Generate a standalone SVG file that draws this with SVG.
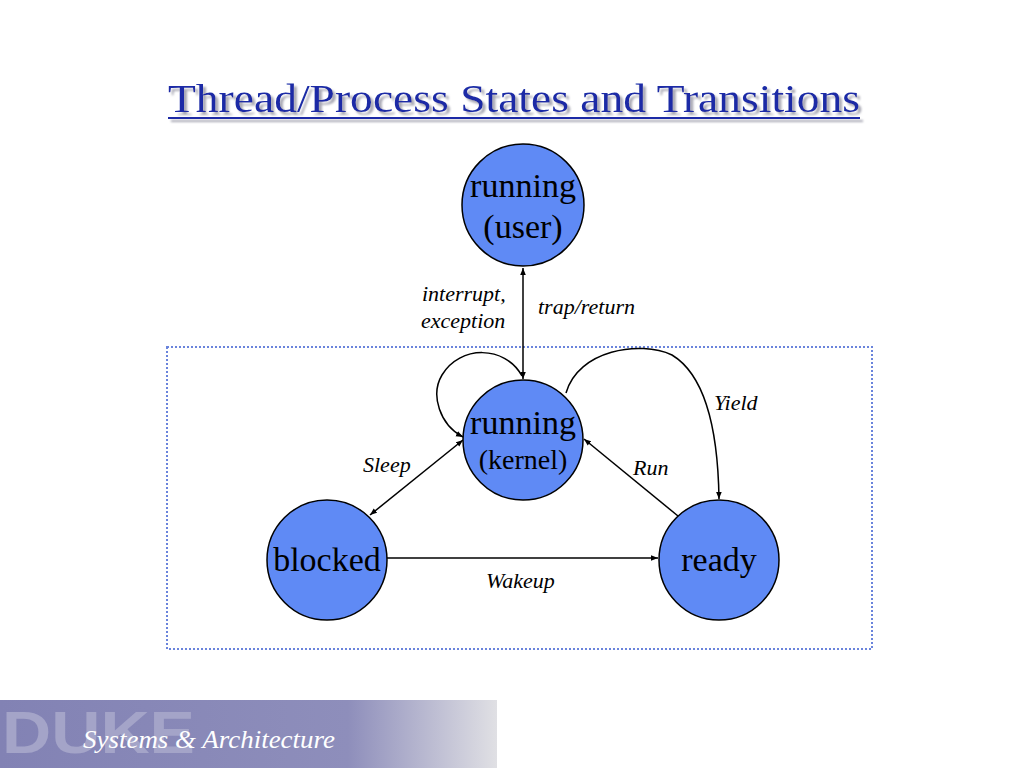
<svg xmlns="http://www.w3.org/2000/svg" width="1024" height="768" viewBox="0 0 1024 768">
<defs>
<style>
.node{fill:#5f8af5;stroke:#000;stroke-width:1.5}
.nl{font-family:"Liberation Serif","Times New Roman",serif;fill:#000;text-anchor:middle}
.el{font-family:"Liberation Serif","Times New Roman",serif;font-style:italic;font-size:22px;fill:#000}
.c{fill:none;stroke:#000;stroke-width:1.5}
</style>
<marker id="ah" viewBox="0 0 10 10" refX="10" refY="5" markerWidth="7" markerHeight="7" orient="auto-start-reverse" markerUnits="userSpaceOnUse">
<path d="M0,1 L10,5 L0,9 Z" fill="#000"/>
</marker>
<linearGradient id="fg" x1="0" y1="0" x2="1" y2="0">
<stop offset="0" stop-color="#8282b4"/>
<stop offset="0.7" stop-color="#8e8ebb"/>
<stop offset="1" stop-color="#e0e0e4"/>
</linearGradient>
<filter id="sh" x="-5%" y="-20%" width="110%" height="150%">
<feDropShadow dx="3" dy="3" stdDeviation="0.8" flood-color="#a8a8b4" flood-opacity="1"/>
</filter>
</defs>
<rect width="1024" height="768" fill="#fff"/>
<g id="title" filter="url(#sh)">
<text x="168" y="112" font-family="'Liberation Serif','Times New Roman',serif" font-size="41" fill="#1a2ca6" textLength="692" lengthAdjust="spacingAndGlyphs">Thread/Process States and Transitions</text>
<rect x="168" y="117" width="692" height="2" fill="#1a2ca6"/>
</g>
<rect id="kernel-box" x="167" y="347" width="705" height="302" fill="none" stroke="#6a84dc" stroke-width="2" stroke-dasharray="2,2"/>
<g id="connectors">
<line class="c" x1="523" y1="268" x2="523" y2="379" marker-start="url(#ah)" marker-end="url(#ah)"/>
<path class="c" d="M522,376 C505,345 460,345 442,375 C430,395 440,425 463,437" marker-end="url(#ah)"/>
<path class="c" d="M566,393 C578,350 640,340 672,355 C705,375 718,430 719,499" marker-end="url(#ah)"/>
<line class="c" x1="678" y1="516" x2="584" y2="439" marker-end="url(#ah)"/>
<line class="c" x1="370" y1="515" x2="463" y2="440" marker-start="url(#ah)" marker-end="url(#ah)"/>
<line class="c" x1="387" y1="558" x2="658" y2="558" marker-end="url(#ah)"/>
<text class="el" x="422" y="301">interrupt,</text>
<text class="el" x="421" y="328">exception</text>
<text class="el" x="538" y="314">trap/return</text>
<text class="el" x="714" y="410">Yield</text>
<text class="el" x="363" y="472">Sleep</text>
<text class="el" x="633" y="475">Run</text>
<text class="el" x="486" y="588">Wakeup</text>
</g>
<g id="running-user">
<circle class="node" cx="523" cy="205" r="61"/>
<text class="nl" x="523" y="197" font-size="34">running</text>
<text class="nl" x="523" y="238" font-size="34">(user)</text>
</g>
<g id="running-kernel">
<circle class="node" cx="523" cy="440" r="60"/>
<text class="nl" x="523" y="434" font-size="34">running</text>
<text class="nl" x="523" y="469" font-size="28">(kernel)</text>
</g>
<g id="blocked">
<circle class="node" cx="327" cy="560" r="60"/>
<text class="nl" x="327" y="571" font-size="34">blocked</text>
</g>
<g id="ready">
<circle class="node" cx="719" cy="560" r="60"/>
<text class="nl" x="719" y="571" font-size="34">ready</text>
</g>
<g id="footer">
<rect x="0" y="700" width="497" height="68" fill="url(#fg)"/>
<text x="2" y="753" font-family="'Liberation Sans',Arial,sans-serif" font-weight="bold" font-size="60" fill="#a4a4c8" textLength="193" lengthAdjust="spacingAndGlyphs">DUKE</text>
<text x="83" y="748" font-family="'Liberation Serif','Times New Roman',serif" font-style="italic" font-size="25" fill="#fff" textLength="252" lengthAdjust="spacingAndGlyphs">Systems &amp; Architecture</text>
</g>
</svg>
